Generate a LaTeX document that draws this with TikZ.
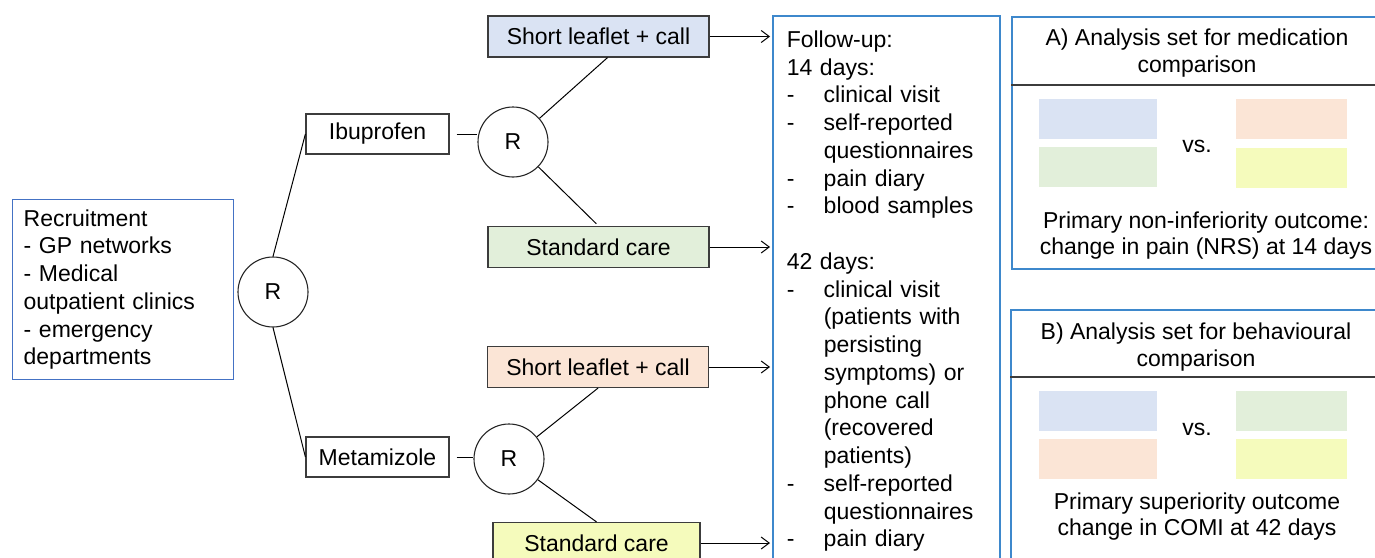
\documentclass[tikz,border=0pt]{standalone}
\usepackage{fontspec}
\setmainfont{Liberation Sans}
\usetikzlibrary{arrows.meta}
\definecolor{leafblue}{RGB}{218,227,243}
\definecolor{caregreen}{RGB}{226,239,218}
\definecolor{leaforange}{RGB}{251,229,214}
\definecolor{careyellow}{RGB}{245,251,188}
\definecolor{recblue}{RGB}{68,114,196}
\definecolor{panelblue}{RGB}{62,136,204}
\definecolor{darkline}{RGB}{60,60,60}

\begin{document}
\begin{tikzpicture}[x=1pt,y=-1pt,
    every node/.style={font=\fontsize{23}{27.75}\selectfont, inner sep=0pt},
    arm/.style={draw=darkline, line width=1.2pt, minimum width=221pt, minimum height=41pt},
    drug/.style={draw=darkline, line width=1.2pt, minimum width=143pt, minimum height=40pt},
    rand/.style={circle, draw=black!85, line width=1.1pt, minimum size=70pt},
    link/.style={line width=1pt},
    flow/.style={-{Straight Barb[length=8pt,width=12pt]}, line width=1pt, shorten >=2pt},
    panel/.style={draw=panelblue, line width=1.5pt, anchor=north west, minimum width=380pt},
    divider/.style={draw=darkline, line width=1.2pt},
    swatch/.style={minimum height=40pt},
    outcome/.style={align=center, font=\fontsize{23}{26}\selectfont}]
        \useasboundingbox (0,0) rectangle (1375,557);
        \node[draw=recblue, line width=1.3pt, anchor=north west, minimum height=180pt,
              text width=199pt, inner xsep=11pt, align=left] (rec) at (12,199)
              {Recruitment\\- GP networks\\- Medical\\outpatient clinics\\- emergency\\departments};
        \node[rand] (rand0) at (273,292) {R};
        \node[drug] (ibu) at (377.5,134) {Ibuprofen};
        \node[drug] (meta) at (377.5,457) {Metamizole};
        \node[rand] (randA) at (513,142) {R};
        \node[rand] (randB) at (509,459) {R};
        \node[arm, fill=leafblue] (leafA) at (598.5,36.5) {Short leaflet + call};
        \node[arm, fill=caregreen] (careA) at (598.5,247) {Standard care};
        \node[arm, fill=leaforange] (leafB) at (598,367) {Short leaflet + call};
        \node[arm, fill=careyellow, minimum width=207pt] (careB) at (596.5,543) {Standard care};
        \node[draw=panelblue, line width=1.5pt, anchor=north west, text width=199pt,
              inner xsep=14pt, inner ysep=15pt, align=left] (fu) at (772,15)
              {Follow-up:\\14 days:\\
               \makebox[37pt][l]{-}clinical visit\\
               \makebox[37pt][l]{-}self-reported\\\hspace*{37pt}questionnaires\\
               \makebox[37pt][l]{-}pain diary\\
               \makebox[37pt][l]{-}blood samples\\[27.75pt]
               42 days:\\
               \makebox[37pt][l]{-}clinical visit\\\hspace*{37pt}(patients with\\
               \hspace*{37pt}persisting\\\hspace*{37pt}symptoms) or\\
               \hspace*{37pt}phone call\\\hspace*{37pt}(recovered\\\hspace*{37pt}patients)\\
               \makebox[37pt][l]{-}self-reported\\\hspace*{37pt}questionnaires\\
               \makebox[37pt][l]{-}pain diary};

        \draw[link] (rand0.north) -- (ibu.west);
        \draw[link] (rand0.south) -- (meta.west);
        \draw[link, shorten <=7pt] (ibu) -- (ibu-|randA.west);
        \draw[link, shorten <=7pt] (meta) -- (meta-|randB.west);
        \draw[link] (randA) -- ([xshift=9pt]leafA.south);
        \draw[link, shorten >=3pt] (randA) -- (careA.north);
        \draw[link] (randB) -- (leafB.south);
        \draw[link] (randB) -- (careB.north);
        \draw[flow] (leafA) -- (leafA-|fu.west);
        \draw[flow] (careA) -- (careA-|fu.west);
        \draw[flow] (leafB) -- (leafB-|fu.west);
        \draw[flow] (careB) -- (careB-|fu.west);

        \coordinate (divA) at (0,85);
        \coordinate (divB) at (0,377);
        \node[panel, minimum height=252pt] (panA) at (1011,16) {};
        \draw[divider] (panA.west|-divA) -- (panA.east|-divA);
        \node[align=center] (titleA) at (1197,53) {A) Analysis set for medication\\comparison};
        \node[swatch, fill=leafblue, minimum width=118pt] (swA1) at (1098,118.5) {};
        \node[swatch, fill=caregreen, minimum width=118pt] (swA2) at (1098,167) {};
        \node[swatch, fill=leaforange, minimum width=111pt] (swA3) at (1291.5,119) {};
        \node[swatch, fill=careyellow, minimum width=111pt] (swA4) at (1291.5,168) {};
        \node (vsA) at (1197,146) {vs.};
        \node[outcome] (outA) at (1206,236) {Primary non-inferiority outcome:\\change in pain (NRS) at 14 days};

        \node[panel, minimum height=300pt] (panB) at (1010,309) {};
        \draw[divider] (panB.west|-divB) -- (panB.east|-divB);
        \node[align=center] (titleB) at (1196,347) {B) Analysis set for behavioural\\comparison};
        \node[swatch, fill=leafblue, minimum width=118pt] (swB1) at (1098,411) {};
        \node[swatch, fill=leaforange, minimum width=118pt] (swB2) at (1098,459) {};
        \node[swatch, fill=caregreen, minimum width=111pt] (swB3) at (1291.5,411) {};
        \node[swatch, fill=careyellow, minimum width=111pt] (swB4) at (1291.5,459) {};
        \node (vsB) at (1197,429) {vs.};
        \node[outcome] (outB) at (1197,516.5) {Primary superiority outcome\\change in COMI at 42 days};
    \end{tikzpicture}
\end{document}
